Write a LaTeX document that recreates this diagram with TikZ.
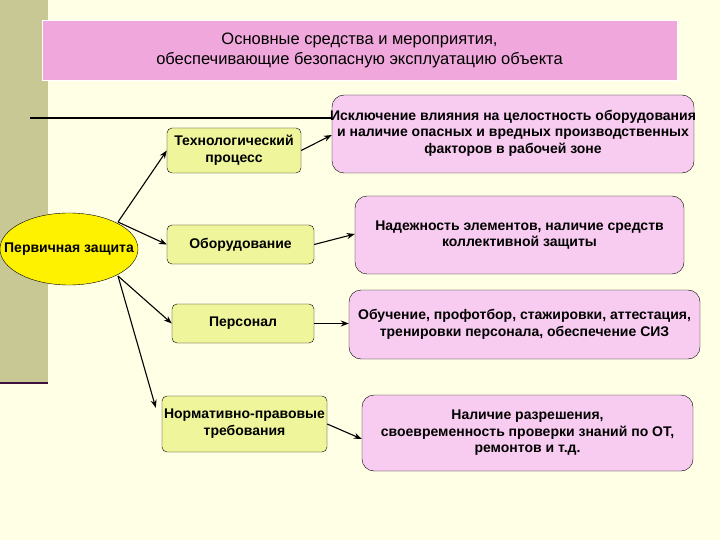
\documentclass[tikz,border=0pt]{standalone}
\usepackage{fontspec}
\setmainfont{Liberation Sans}
\usetikzlibrary{shapes.geometric,arrows.meta}
\definecolor{bg}{HTML}{FFFFE6}
\definecolor{strip}{HTML}{C8C894}
\definecolor{hdr}{HTML}{F0A8DC}
\definecolor{pinkb}{HTML}{F8CCF0}
\definecolor{yelb}{HTML}{EEF59A}
\definecolor{purp}{HTML}{3C103C}
\tikzset{
  ybox/.style={draw=black,fill=yelb,rounded corners=5pt,align=center,font=\bfseries\fontsize{14}{17}\selectfont,inner sep=0pt},
  pbox/.style={draw=black,fill=pinkb,rounded corners=12pt,align=center,font=\bfseries\fontsize{14}{16.5}\selectfont,inner sep=0pt},
  arr/.style={-{Stealth[length=8pt,width=6pt]},line width=1.1pt}
}
\begin{document}
\begin{tikzpicture}[x=1pt,y=-1pt]
\fill[bg] (0,0) rectangle (720,540);
\useasboundingbox (0,0) rectangle (720,540);
\fill[strip] (0,0) rectangle (48,383);
\draw[purp,line width=2.5pt] (0,383) -- (48,383);
\node[draw=white,fill=hdr,minimum width=635pt,minimum height=60pt,align=center,font=\fontsize{16.5}{20}\selectfont,inner sep=0pt] (h) at (359.5,50) {Основные средства и мероприятия,\\обеспечивающие безопасную эксплуатацию объекта};
\node[pbox,minimum width=362pt,minimum height=78pt] (p1) at (513,134) {};
\node[align=center,font=\bfseries\fontsize{14}{16.5}\selectfont,inner sep=0pt] (t1) at (513,133) {Исключение влияния на целостность оборудования\\и наличие опасных и вредных производственных\\факторов в рабочей зоне};
\coordinate (l0) at (30,118);
\draw[line width=1.2pt] (l0) -- (p1.west |- l0);
\node[pbox,minimum width=329pt,minimum height=78pt] (p2) at (519.5,235) {Надежность элементов, наличие средств\\коллективной защиты};
\node[pbox,minimum width=351pt,minimum height=69pt] (p3) at (524.5,324.5) {Обучение, профотбор, стажировки, аттестация,\\тренировки персонала, обеспечение СИЗ};
\node[pbox,minimum width=331pt,minimum height=76pt] (p4) at (527.5,433) {Наличие разрешения,\\своевременность проверки знаний по ОТ,\\ремонтов и т.д.};
\node[ellipse,draw=black,fill=yellow,minimum width=138pt,minimum height=72pt,inner sep=0pt] (e) at (69,249) {};
\node[font=\bfseries\fontsize{14}{16}\selectfont,inner sep=0pt] (et) at (69,249) {Первичная защита};
\node[ybox,minimum width=134pt,minimum height=45pt] (y1) at (234,150.5) {Технологический\\процесс};
\node[ybox,minimum width=147pt,minimum height=39pt] (y2) at (240.5,244.5) {Оборудование};
\node[ybox,minimum width=142pt,minimum height=39pt] (y3) at (243,323.5) {Персонал};
\node[ybox,minimum width=165pt,minimum height=56pt] (y4) at (244.5,424) {Нормативно-правовые\\требования};
\coordinate (s1) at (118,222);
\coordinate (s2) at (118,276);
\draw[arr] (s1) -- (y1.west);
\draw[arr] (s1) -- (y2.west);
\draw[arr] (s2) -- (y3.west);
\draw[arr] (s2) -- ([xshift=-6pt,yshift=-12pt]y4.north west);
\draw[arr] (y1.east) -- ([yshift=-1pt]p1.west);
\draw[arr] (y2.east) -- ([yshift=1pt]p2.west);
\draw[arr] (y3.east) -- (p3.west |- y3.east);
\draw[arr] (y4.east) -- ([yshift=-6pt]p4.west);
\end{tikzpicture}
\end{document}
